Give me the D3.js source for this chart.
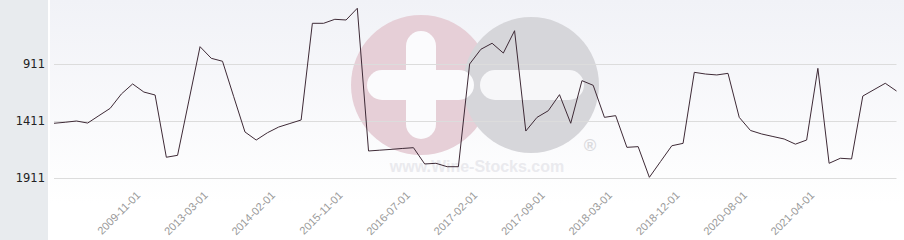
<!DOCTYPE html>
<html>
<head>
<meta charset="utf-8">
<script src="https://cdn.jsdelivr.net/npm/d3@7"></script>
<style>
  html, body { margin: 0; padding: 0; background: #fff; }
  svg { display: block; }
</style>
</head>
<body>
<div id="chart"></div>
<script>
// rank values, one per point (lower = better, axis reversed)
const ranks = [
  1431, 1422, 1411, 1429, 1364, 1300, 1174, 1086, 1157, 1183,
  1729, 1712, 1236, 759, 861, 887, 1198, 1507, 1578, 1514,
  1464, 1433, 1402, 554, 554, 519, 525, 422, 1674, 1667,
  1660, 1652, 1645, 1788, 1782, 1812, 1812, 911, 782, 729,
  815, 619, 1499, 1379, 1321, 1180, 1431, 1057, 1098, 1379,
  1364, 1642, 1636, 1905, 1766, 1628, 1607, 984, 999, 1007,
  993, 1379, 1494, 1525, 1547, 1569, 1614, 1578, 949, 1782,
  1738, 1744, 1192, 1136, 1080, 1148
];
// labelled points on the category axis
const tickIndex = [7, 13, 19, 25, 31, 37, 43, 49, 55, 61, 67];
const tickLabels = ["2009-11-01", "2013-03-01", "2014-02-01", "2015-11-01", "2016-07-01",
  "2017-02-01", "2017-09-01", "2018-03-01", "2018-12-01", "2020-08-01", "2021-04-01"];
const yTicks = [911, 1411, 1911];

const width = 904, height = 240;
const plot = { left: 54, right: 896.5 };

const svg = d3.select("#chart").append("svg")
  .attr("width", width)
  .attr("height", height);

// background gradient
const defs = svg.append("defs");
const grad = defs.append("linearGradient")
  .attr("id", "bg").attr("x1", 0).attr("y1", 0).attr("x2", 0).attr("y2", 1);
grad.append("stop").attr("offset", "0%").attr("stop-color", "#f1f2f7");
grad.append("stop").attr("offset", "85%").attr("stop-color", "#ffffff");

svg.append("rect").attr("x", 50).attr("y", 0).attr("width", width - 50).attr("height", height)
  .attr("fill", "url(#bg)");
svg.append("rect").attr("x", 0).attr("y", 0).attr("width", 48).attr("height", height)
  .attr("fill", "#e8ebee");

// watermark
const wm = svg.append("g");
wm.append("circle").attr("cx", 421).attr("cy", 85).attr("r", 70).attr("fill", "#e6cfd7");
wm.append("circle").attr("cx", 531).attr("cy", 85).attr("r", 68).attr("fill", "#d6d6da");
wm.append("rect").attr("x", 406).attr("y", 31).attr("width", 30).attr("height", 108).attr("rx", 15)
  .attr("fill", "#fbfbfd");
wm.append("rect").attr("x", 367).attr("y", 70).attr("width", 107).attr("height", 30).attr("rx", 15)
  .attr("fill", "#fbfbfd");
wm.append("rect").attr("x", 480).attr("y", 70).attr("width", 104).attr("height", 30).attr("rx", 15)
  .attr("fill", "#f7f7f9");
wm.append("text").attr("x", 590).attr("y", 151).attr("text-anchor", "middle")
  .attr("font-family", "Liberation Sans, Arial, sans-serif").attr("font-size", 17)
  .attr("font-weight", "bold").attr("fill", "#dadadd").text("®");
wm.append("text").attr("x", 477).attr("y", 172).attr("text-anchor", "middle")
  .attr("font-family", "Liberation Sans, Arial, sans-serif").attr("font-size", 16)
  .attr("font-weight", "bold").attr("fill", "#eaeaee").text("www.Wine-Stocks.com");

// scales
const x = d3.scalePoint()
  .domain(d3.range(ranks.length))
  .range([plot.left, plot.right]);

const y = d3.scaleLinear()
  .domain([911, 1911])
  .range([64, 178]);

// grid lines
svg.append("g")
  .attr("transform", `translate(${plot.left},0)`)
  .call(d3.axisLeft(y).tickValues(yTicks).tickSize(-(plot.right - plot.left)).tickFormat(""))
  .call(g => g.select(".domain").remove())
  .selectAll("line").attr("stroke", "#dcdcdc");

// y labels
svg.append("g")
  .attr("transform", "translate(45,0)")
  .call(d3.axisLeft(y).tickValues(yTicks).tickSize(0).tickPadding(0).tickFormat(d3.format("d")))
  .call(g => g.select(".domain").remove())
  .selectAll("text")
  .attr("font-family", "DejaVu Sans, sans-serif")
  .attr("font-size", 11.5)
  .attr("fill", "#222");

// x labels
svg.append("g")
  .call(d3.axisBottom(x).tickValues(tickIndex).tickSize(0)
    .tickFormat(i => tickLabels[tickIndex.indexOf(i)]))
  .call(g => g.select(".domain").remove())
  .selectAll("text")
  .attr("y", 0).attr("dy", null)
  .attr("text-anchor", "end")
  .attr("transform", "translate(8,196) rotate(-45)")
  .attr("font-family", "Liberation Sans, Arial, sans-serif")
  .attr("font-size", 11)
  .attr("fill", "#999");

// line
const line = d3.line()
  .x((d, i) => x(i))
  .y(d => y(d));

svg.append("path")
  .datum(ranks)
  .attr("d", line)
  .attr("fill", "none")
  .attr("stroke", "#3e2a36")
  .attr("stroke-width", 1);
</script>
</body>
</html>
